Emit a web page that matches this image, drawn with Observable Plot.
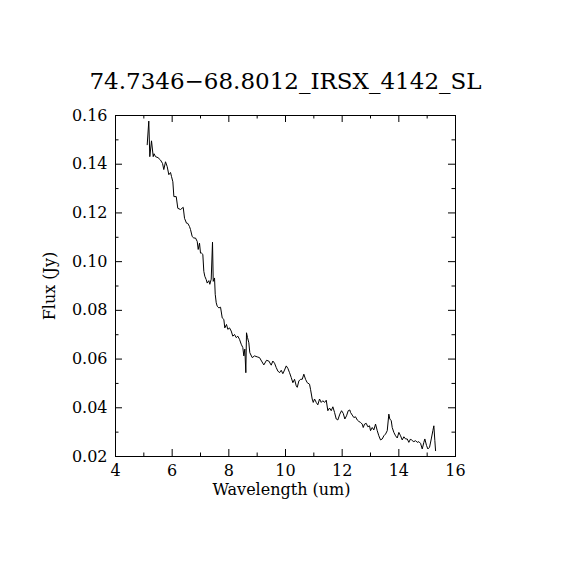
<!DOCTYPE html>
<html>
<head>
<meta charset="utf-8">
<script src="https://cdn.jsdelivr.net/npm/d3@7"></script>
<script src="https://cdn.jsdelivr.net/npm/@observablehq/plot@0.6"></script>
<style>
  html, body { margin: 0; padding: 0; background: #fff; }
  svg text { font-family: 'DejaVu Serif', serif; }
</style>
</head>
<body>
<div id="chart"></div>
<script>
const titleText = "74.7346\u221268.8012_IRSX_4142_SL";
const xLabel = "Wavelength (um)";
const yLabel = "Flux (Jy)";

const wavelength = [
  5.119, 5.175, 5.211, 5.271, 5.331, 5.36, 5.412, 5.50, 5.589, 5.66,
  5.705, 5.765, 5.825, 5.882, 5.942, 5.978, 6.024, 6.06, 6.144, 6.199,
  6.295, 6.39, 6.436, 6.506, 6.552, 6.612, 6.647, 6.707, 6.764, 6.824,
  6.884, 6.919, 6.965, 7.0, 7.036, 7.082, 7.117, 7.152, 7.202, 7.237,
  7.294, 7.329, 7.378, 7.424, 7.449, 7.495, 7.52, 7.555, 7.59, 7.647,
  7.707, 7.767, 7.823, 7.858, 7.918, 7.964, 8.024, 8.084, 8.141, 8.201,
  8.261, 8.317, 8.377, 8.437, 8.494, 8.529, 8.564, 8.6, 8.624, 8.66,
  8.706, 8.741, 8.826, 8.907, 9.002, 9.083, 9.154, 9.235, 9.330, 9.411,
  9.496, 9.553, 9.613, 9.673, 9.729, 9.789, 9.849, 9.906, 9.966, 10.026,
  10.083, 10.143, 10.203, 10.260, 10.319, 10.379, 10.415, 10.471, 10.531, 10.591,
  10.647, 10.707, 10.767, 10.848, 10.883, 10.943, 10.979, 11.025, 11.085, 11.141,
  11.201, 11.261, 11.318, 11.378, 11.438, 11.494, 11.554, 11.614, 11.671, 11.731,
  11.791, 11.847, 11.918, 11.978, 12.038, 12.094, 12.154, 12.214, 12.27, 12.295,
  12.355, 12.412, 12.472, 12.532, 12.588, 12.648, 12.708, 12.744, 12.79, 12.85,
  12.906, 12.966, 13.001, 13.061, 13.118, 13.178, 13.238, 13.294, 13.354, 13.414,
  13.471, 13.531, 13.591, 13.647, 13.682, 13.732, 13.767, 13.824, 13.884, 13.944,
  14.001, 14.061, 14.12, 14.177, 14.237, 14.297, 14.353, 14.413, 14.473, 14.53,
  14.59, 14.65, 14.706, 14.766, 14.826, 14.883, 14.918, 14.978, 15.024, 15.084,
  15.145, 15.201, 15.236, 15.271, 15.296
];

const flux = [
  0.1480, 0.1577, 0.1431, 0.1496, 0.1431, 0.1443, 0.1431, 0.1427, 0.1417, 0.1403,
  0.1378, 0.1410, 0.1390, 0.1357, 0.1366, 0.1349, 0.1328, 0.1267, 0.1267, 0.1219,
  0.1214, 0.1223, 0.1178, 0.1158, 0.1157, 0.1144, 0.1132, 0.1103, 0.1097, 0.1097,
  0.1083, 0.1050, 0.1076, 0.1035, 0.1035, 0.1030, 0.0960, 0.0940, 0.0926, 0.0912,
  0.0922, 0.0907, 0.0928, 0.1080, 0.0919, 0.0933, 0.0866, 0.0831, 0.0817, 0.0810,
  0.0813, 0.0769, 0.0763, 0.0728, 0.0742, 0.0722, 0.0728, 0.0715, 0.0694, 0.0701,
  0.0688, 0.0694, 0.0681, 0.0661, 0.0647, 0.0613, 0.0641, 0.0544, 0.0708, 0.0688,
  0.0667, 0.0626, 0.0606, 0.0613, 0.0609, 0.0606, 0.0592, 0.0576, 0.0595, 0.0592,
  0.0575, 0.0592, 0.0583, 0.0565, 0.0551, 0.0544, 0.0554, 0.0540, 0.0555, 0.0572,
  0.0562, 0.0544, 0.0524, 0.0503, 0.0517, 0.0490, 0.0484, 0.0510, 0.0517, 0.0517,
  0.0538, 0.0517, 0.0503, 0.0497, 0.0476, 0.0436, 0.0422, 0.0436, 0.0422, 0.0412,
  0.0436, 0.0422, 0.0429, 0.0422, 0.0431, 0.0388, 0.0399, 0.0388, 0.0404, 0.0381,
  0.0354, 0.0350, 0.0374, 0.0388, 0.0377, 0.0354, 0.0367, 0.0388, 0.0391, 0.0381,
  0.0370, 0.0360, 0.0363, 0.0350, 0.0344, 0.0340, 0.0333, 0.0319, 0.0333, 0.0336,
  0.0322, 0.0326, 0.0306, 0.0319, 0.0309, 0.0333, 0.0306, 0.0285, 0.0268, 0.0272,
  0.0285, 0.0292, 0.0306, 0.0374, 0.0354, 0.0347, 0.0319, 0.0299, 0.0285, 0.0276,
  0.0299, 0.0285, 0.0268, 0.0281, 0.0272, 0.0272, 0.0258, 0.0272, 0.0265, 0.0261,
  0.0265, 0.0258, 0.0261, 0.0254, 0.0231, 0.0258, 0.0272, 0.0245, 0.0231, 0.0238,
  0.0272, 0.0306, 0.0326, 0.0265, 0.0224
];

const xMajorTicks = [4, 6, 8, 10, 12, 14, 16];
const xMinorTicks = [5, 7, 9, 11, 13, 15];
const yMajorTicks = [0.02, 0.04, 0.06, 0.08, 0.10, 0.12, 0.14, 0.16];
const yMinorTicks = [0.03, 0.05, 0.07, 0.09, 0.11, 0.13, 0.15];

const W = 570, H = 570;
const mL = 115, mR = 115, mT = 115, mB = 114;
const innerW = W - mL - mR, innerH = H - mT - mB;
const majorLen = 7, minorLen = 3.5;
const font = "'DejaVu Serif', serif";

const chart = Plot.plot({
  width: W,
  height: H,
  marginLeft: mL,
  marginRight: mR,
  marginTop: mT,
  marginBottom: mB,
  style: { fontFamily: font, background: "#fff", color: "#000" },
  x: { domain: [4, 16], axis: null },
  y: { domain: [0.02, 0.16], axis: null },
  marks: [
    Plot.frame({ stroke: "#000", strokeWidth: 1 }),
    // bottom ticks
    Plot.tickX(xMajorTicks, { x: d => d, insetTop: innerH - majorLen, stroke: "#000" }),
    Plot.tickX(xMinorTicks, { x: d => d, insetTop: innerH - minorLen, stroke: "#000" }),
    // top ticks
    Plot.tickX(xMajorTicks, { x: d => d, insetBottom: innerH - majorLen, stroke: "#000" }),
    Plot.tickX(xMinorTicks, { x: d => d, insetBottom: innerH - minorLen, stroke: "#000" }),
    // left ticks
    Plot.tickY(yMajorTicks, { y: d => d, insetRight: innerW - majorLen, stroke: "#000" }),
    Plot.tickY(yMinorTicks, { y: d => d, insetRight: innerW - minorLen, stroke: "#000" }),
    // right ticks
    Plot.tickY(yMajorTicks, { y: d => d, insetLeft: innerW - majorLen, stroke: "#000" }),
    Plot.tickY(yMinorTicks, { y: d => d, insetLeft: innerW - minorLen, stroke: "#000" }),
    // tick labels
    Plot.axisX(xMajorTicks, { tickSize: 0, tickPadding: 8, fontSize: 16, fontFamily: font, label: null, tickFormat: d => String(d) }),
    Plot.axisY(yMajorTicks, { tickSize: 0, tickPadding: 8, fontSize: 16, fontFamily: font, label: null, tickFormat: d3.format(".2f") }),
    // spectrum
    Plot.line(wavelength, { x: wavelength, y: flux, stroke: "#000", strokeWidth: 1 }),
    // title and axis labels
    Plot.text([titleText], { frameAnchor: "top", lineAnchor: "middle", dy: -34, fontSize: 23, fontFamily: font, text: d => d, fill: "#000" }),
    Plot.text([xLabel], { frameAnchor: "bottom", lineAnchor: "middle", textAnchor: "middle", dx: -4, dy: 33, fontSize: 16, fontFamily: font, text: d => d, fill: "#000" }),
    Plot.text([yLabel], { frameAnchor: "left", lineAnchor: "middle", textAnchor: "middle", dx: -66, rotate: -90, fontSize: 16, fontFamily: font, text: d => d, fill: "#000" })
  ]
});

document.getElementById("chart").appendChild(chart);
</script>
</body>
</html>
